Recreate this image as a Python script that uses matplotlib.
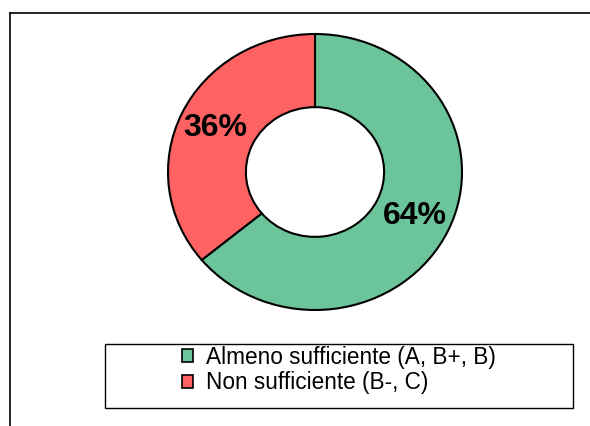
import matplotlib.pyplot as plt
from matplotlib.patches import Rectangle, Patch
from matplotlib.lines import Line2D

plt.rcParams['font.family'] = ['Liberation Sans', 'DejaVu Sans']

# dati
labels = ['Almeno sufficiente (A, B+, B)', 'Non sufficiente (B-, C)']
values = [64, 36]
colors = ['#6cc49a', '#ff6262']

W, H = 590, 426
fig = plt.figure(figsize=(W / 100, H / 100), dpi=100)

# cornice del grafico (solo lati alto e sinistro visibili)
fig.add_artist(Line2D([10 / W, 1], [1 - 13 / H, 1 - 13 / H], color='black', lw=1.2))
fig.add_artist(Line2D([10 / W, 10 / W], [0, 1 - 13 / H], color='black', lw=1.2))

# area della ciambella (leggermente ellittica)
cx, cy, rx, ry = 315, 172, 147, 138
ax = fig.add_axes([(cx - rx) / W, (H - cy - ry) / H, 2 * rx / W, 2 * ry / H])
wedges, texts, autotexts = ax.pie(
    values, colors=colors, startangle=90, counterclock=False,
    radius=1, autopct='%d%%', pctdistance=0.75,
    wedgeprops=dict(width=0.53, edgecolor='black', linewidth=1.5),
    textprops=dict(fontsize=23, fontweight='bold', color='black'))
ax.set_aspect('auto')
ax.set_xlim(-1, 1)
ax.set_ylim(-1, 1)
ax.axis('off')

# legenda
fig.add_artist(Rectangle((105 / W, 1 - 408 / H), 468 / W, 64 / H,
                         transform=fig.transFigure, fill=False,
                         edgecolor='black', lw=1.0))
handles = [Patch(facecolor=c, edgecolor='black', lw=1.2) for c in colors]
fig.legend(handles, labels, loc='center', bbox_to_anchor=(339 / W, 1 - 370 / H),
           frameon=False, fontsize=16.3, handlelength=0.5, handleheight=0.5,
           handletextpad=0.55, labelspacing=0.1, borderpad=0)

fig.savefig('out.png', dpi=100)
